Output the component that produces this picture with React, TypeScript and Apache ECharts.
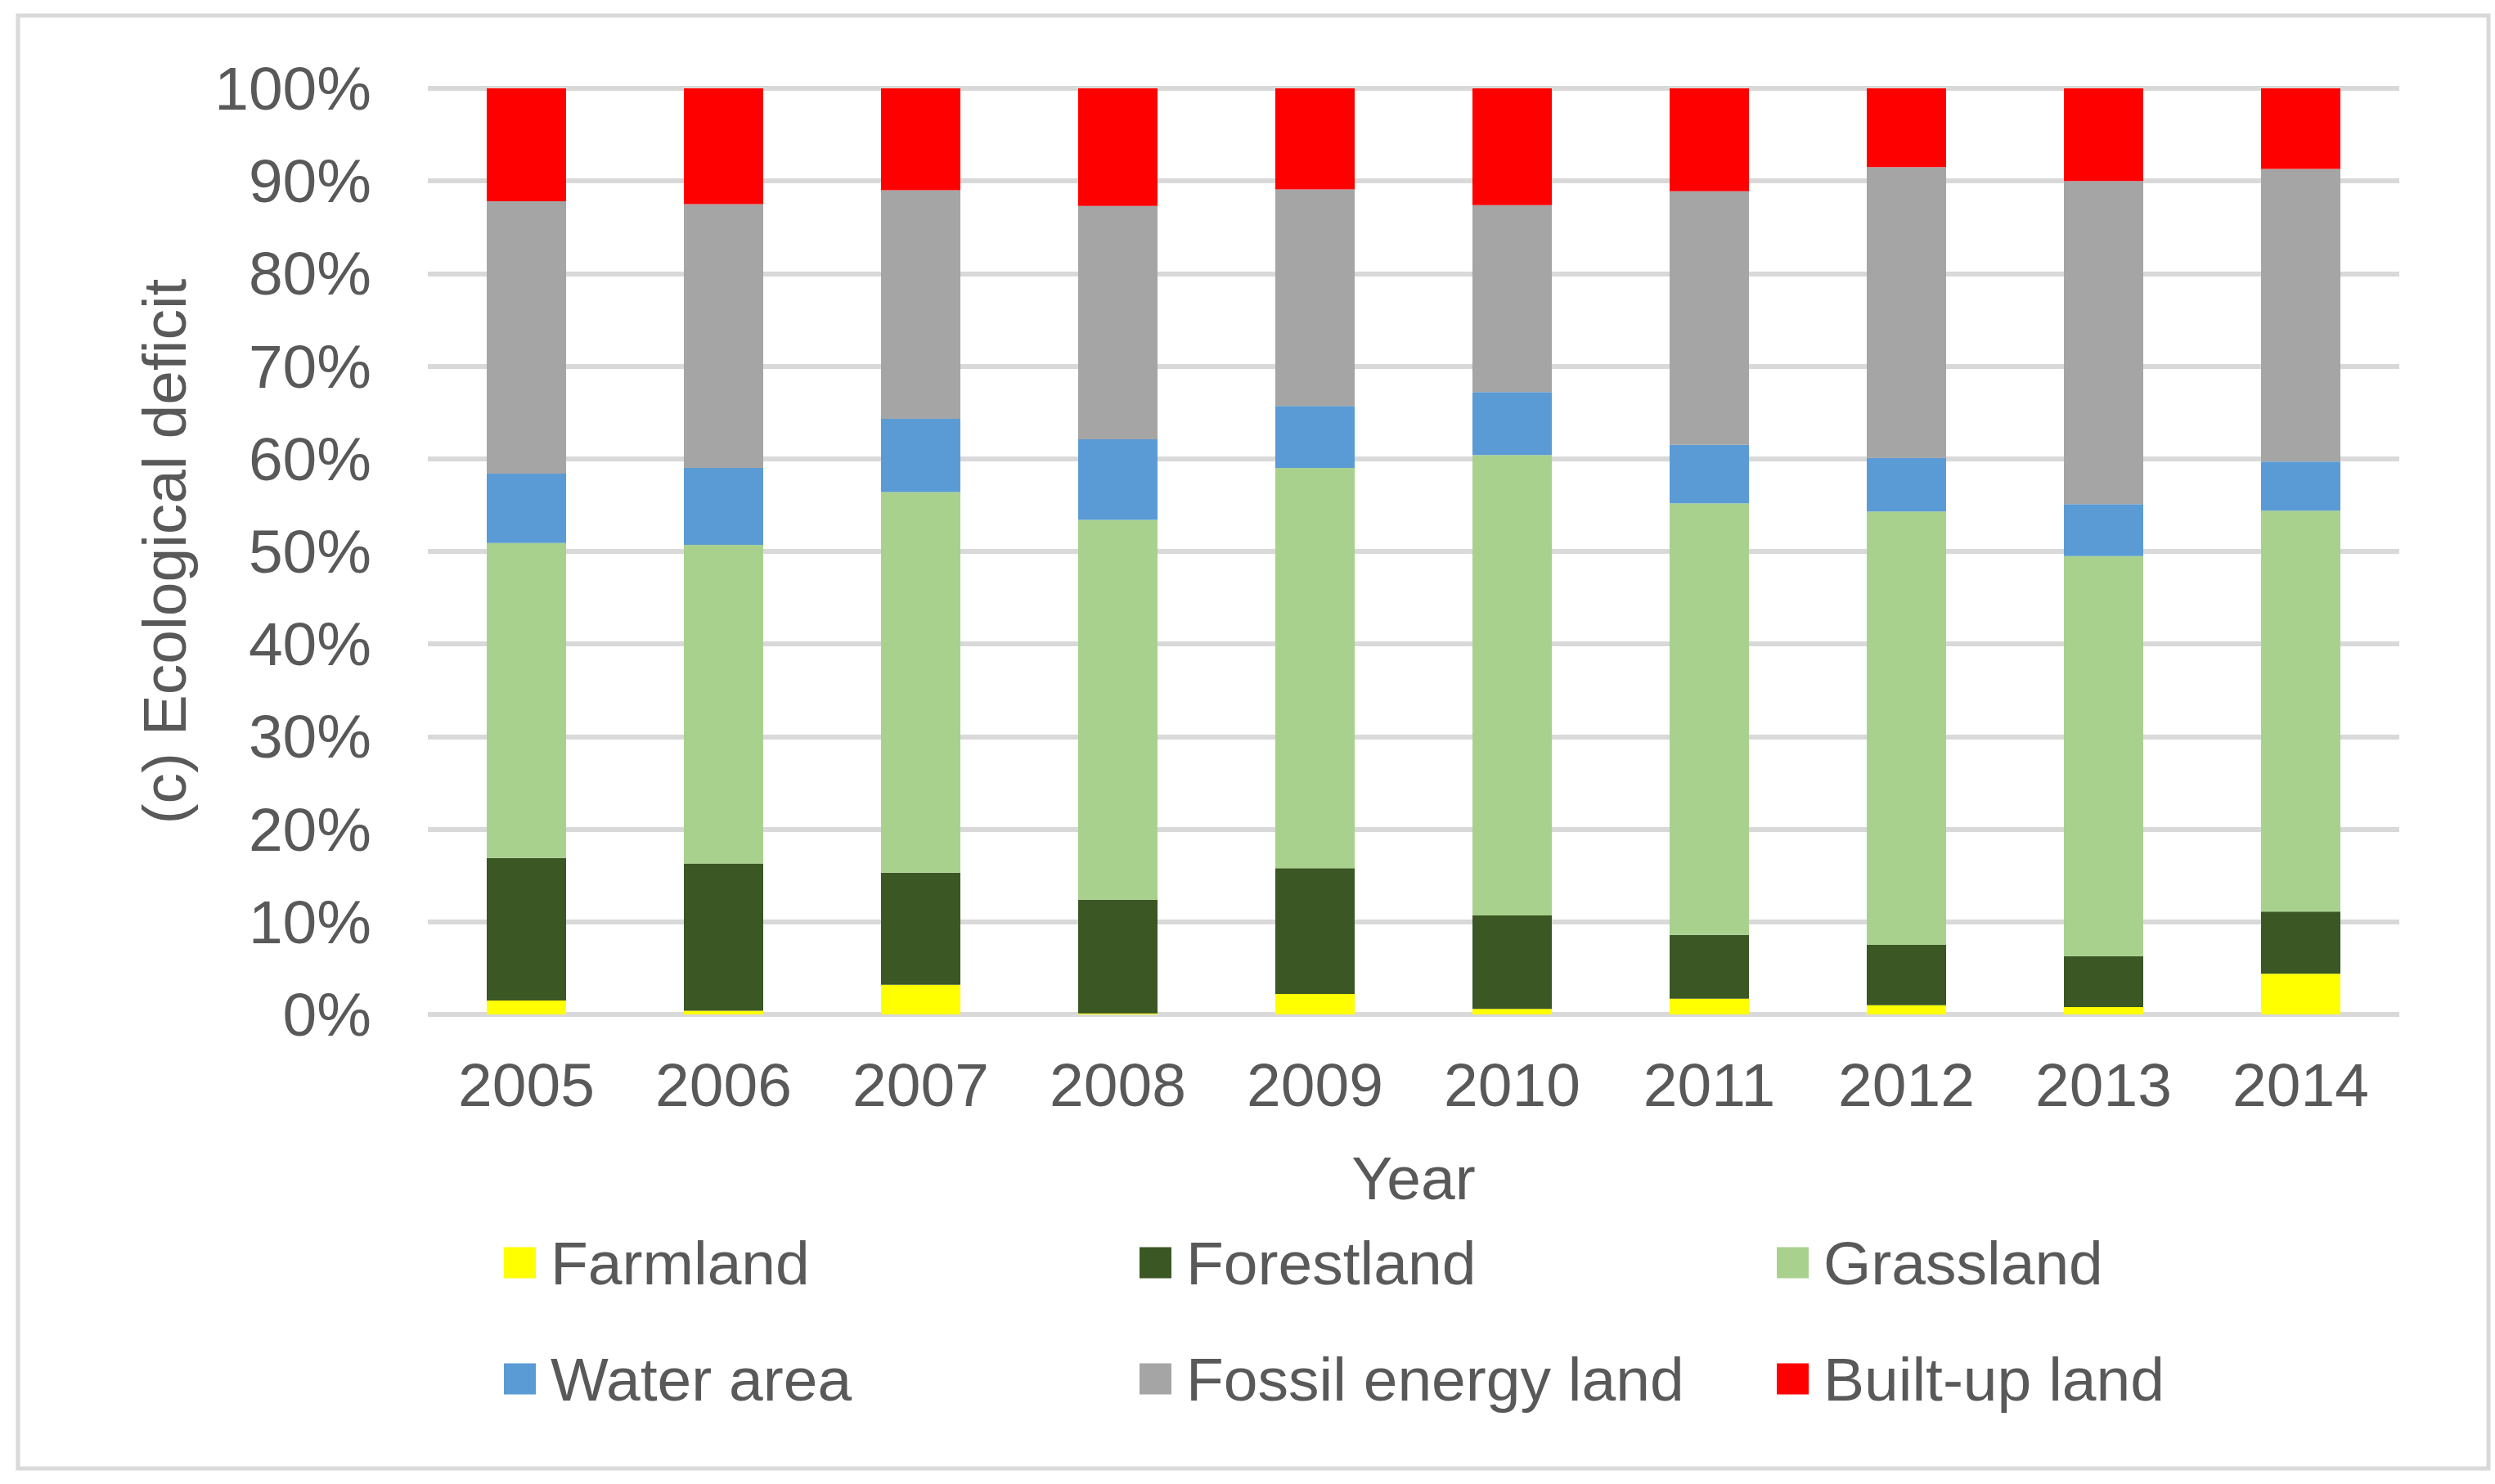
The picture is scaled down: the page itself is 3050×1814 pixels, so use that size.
import { useEffect, useRef } from "react";
import * as echarts from "echarts";

const years = ["2005", "2006", "2007", "2008", "2009", "2010", "2011", "2012", "2013", "2014"];
const yTicks = [0, 10, 20, 30, 40, 50, 60, 70, 80, 90, 100];

// shares of ecological deficit, %
const farmland = [1.5, 0.4, 3.2, 0.1, 2.2, 0.6, 1.7, 1.0, 0.8, 4.4];
const forestland = [15.4, 15.9, 12.1, 12.3, 13.6, 10.1, 6.9, 6.5, 5.5, 6.7];
const grassland = [34.0, 34.4, 41.1, 41.0, 43.2, 49.7, 46.6, 46.8, 43.2, 43.3];
const waterArea = [7.5, 8.3, 7.9, 8.7, 6.7, 6.8, 6.3, 5.8, 5.6, 5.3];
const fossilEnergy = [29.4, 28.5, 24.7, 25.2, 23.4, 20.2, 27.4, 31.4, 34.9, 31.6];
const builtUp = [12.2, 12.5, 11.0, 12.7, 10.9, 12.6, 11.1, 8.5, 10.0, 8.7];

const seriesDefs = [
  { name: "Farmland", data: farmland, color: "#FFFF00" },
  { name: "Forestland", data: forestland, color: "#3A5724" },
  { name: "Grassland", data: grassland, color: "#A9D18E" },
  { name: "Water area", data: waterArea, color: "#5B9BD5" },
  { name: "Fossil energy land", data: fossilEnergy, color: "#A5A5A5" },
  { name: "Built-up land", data: builtUp, color: "#FF0000" },
];

const FONT = "'Liberation Sans', Arial, sans-serif";
const TEXT = "#595959";
const GRID = "#D9D9D9";

// legend laid out in three columns of two rows, like the Excel original
const legendColumns = [
  { left: 616, names: ["Farmland", "Water area"] },
  { left: 1393, names: ["Forestland", "Fossil energy land"] },
  { left: 2172, names: ["Grassland", "Built-up land"] },
];

export default function App() {
  const ref = useRef<HTMLDivElement>(null);

  useEffect(() => {
    document.body.style.margin = "0";
    if (!ref.current) return;
    const chart = echarts.init(ref.current, undefined, { renderer: "svg" });
    chart.setOption({
      animation: false,
      backgroundColor: "#fff",
      textStyle: { fontFamily: FONT },
      grid: { left: 523, right: 117, top: 108, bottom: 574 },
      legend: legendColumns.map((c) => ({
        orient: "vertical",
        left: c.left,
        top: 1506,
        padding: 0,
        itemWidth: 39,
        itemHeight: 38,
        itemGap: 67,
        icon: "rect",
        selectedMode: false,
        textStyle: { fontSize: 75, color: TEXT, fontFamily: FONT, padding: [0, 0, 0, 13] },
        data: c.names,
      })),
      xAxis: {
        type: "category",
        data: years,
        name: "Year",
        nameLocation: "middle",
        nameGap: 162,
        nameTextStyle: { fontSize: 75, color: TEXT, fontFamily: FONT },
        axisLine: { show: false },
        axisTick: { show: false },
        axisLabel: { fontSize: 75, color: TEXT, fontFamily: FONT, margin: 48 },
      },
      yAxis: {
        type: "value",
        min: yTicks[0],
        max: yTicks[yTicks.length - 1],
        interval: 10,
        name: "(c) Ecological deficit",
        nameLocation: "middle",
        nameGap: 285,
        nameTextStyle: { fontSize: 75, color: TEXT, fontFamily: FONT },
        axisLine: { show: false },
        axisTick: { show: false },
        axisLabel: { fontSize: 75, color: TEXT, fontFamily: FONT, margin: 69, formatter: "{value}%" },
        splitLine: { lineStyle: { color: GRID, width: 6 } },
      },
      series: seriesDefs.map((s) => ({
        type: "bar",
        name: s.name,
        stack: "total",
        data: s.data,
        barWidth: 97,
        itemStyle: { color: s.color },
        emphasis: { disabled: true },
      })),
      graphic: [
        {
          type: "rect",
          shape: { x: 22, y: 19, width: 3020, height: 1776 },
          style: { fill: "none", stroke: GRID, lineWidth: 5 },
          silent: true,
        },
      ],
    });
    return () => chart.dispose();
  }, []);

  return <div ref={ref} style={{ width: 3050, height: 1814 }} />;
}
